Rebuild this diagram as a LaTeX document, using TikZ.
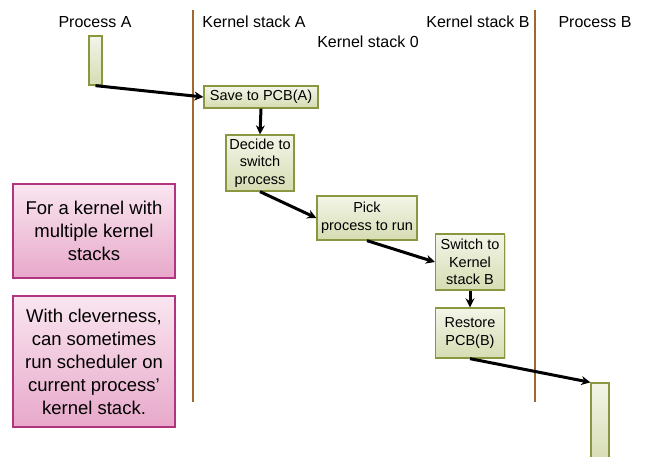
\documentclass[tikz,border=0pt]{standalone}
\usepackage{fontspec}
\setmainfont{Liberation Sans}
\usetikzlibrary{arrows.meta,shadows}

\definecolor{laneBrown}{RGB}{160,104,44}
\definecolor{stepEdge}{RGB}{138,150,64}
\definecolor{stepTop}{RGB}{243,245,232}
\definecolor{stepBot}{RGB}{214,220,178}
\definecolor{noteEdge}{RGB}{176,52,128}
\definecolor{noteTop}{RGB}{249,230,240}
\definecolor{noteBot}{RGB}{232,168,202}

\tikzset{
  lane/.style={laneBrown, line width=2.8pt},
  heading/.style={font=\fontsize{16}{19}\selectfont, inner sep=0pt},
  stepbox/.style={draw=stepEdge, line width=1.3pt, top color=stepTop, bottom color=stepBot,
    drop shadow={opacity=0.25, shadow xshift=1.2pt, shadow yshift=-1.2pt},
    align=center, inner sep=0pt, font=\fontsize{14.5}{17.5}\selectfont},
  notebox/.style={draw=noteEdge, line width=1.3pt, top color=noteTop, bottom color=noteBot,
    drop shadow={opacity=0.25, shadow xshift=1.2pt, shadow yshift=-1.2pt},
    align=center, inner sep=0pt, minimum width=162pt, font=\fontsize{18.5}{23}\selectfont},
  procbar/.style={draw=stepEdge, line width=1.3pt, top color=stepTop, bottom color=stepBot, inner sep=0pt},
  flow/.style={line width=3pt, -{Stealth[length=9pt,width=9pt]}}
}

\begin{document}
\begin{tikzpicture}[x=1pt,y=-1pt]
  \useasboundingbox (0,0) rectangle (646,457);

  % lanes
  \draw[lane] (193,10) -- (193,402);
  \draw[lane] (535,10) -- (535,402);

  \node[heading] (hProcA) at (95,22) {Process A};
  \node[heading] (hKsA) at (254,22) {Kernel stack A};
  \node[heading] (hKs0) at (368,42) {Kernel stack 0};
  \node[heading] (hKsB) at (478,22) {Kernel stack B};
  \node[heading] (hProcB) at (595,22) {Process B};

  % running processes
  \node[procbar, minimum width=13pt, minimum height=49pt] (barA) at (95.5,60.5) {};
  \node[procbar, minimum width=18pt, minimum height=80pt] (barB) at (600,423) {};

  % steps in the kernel
  \node[stepbox, minimum width=114pt, minimum height=22pt] (save) at (261,97) {Save to PCB(A)};
  \node[stepbox, minimum width=68pt, minimum height=56pt] (decide) at (260,163) {Decide to\\switch\\process};
  \node[stepbox, minimum width=100pt, minimum height=44pt] (pick) at (367,218) {Pick\\process to run};
  \node[stepbox, minimum width=69pt, minimum height=56pt] (switchB) at (470,262) {Switch to\\Kernel\\stack B};
  \node[stepbox, minimum width=69pt, minimum height=50pt] (restore) at (470,333) {Restore\\PCB(B)};

  % notes
  \node[notebox, minimum height=94pt] (noteOne) at (94,231) {For a kernel with\\multiple kernel\\stacks};
  \node[notebox, minimum height=131pt] (noteTwo) at (94,361.5) {With cleverness,\\can sometimes\\run scheduler on\\current process'\\kernel stack.};

  \draw[flow] (barA.south) -- (save.west);
  \draw[flow] (save.south) -- (decide.north);
  \draw[flow] (decide.south) -- (pick.west);
  \draw[flow] (pick.south) -- (switchB.west);
  \draw[flow] (switchB.south) -- (restore.north);
  \draw[flow] (restore.south) -- (barB.north west);
\end{tikzpicture}
\end{document}
